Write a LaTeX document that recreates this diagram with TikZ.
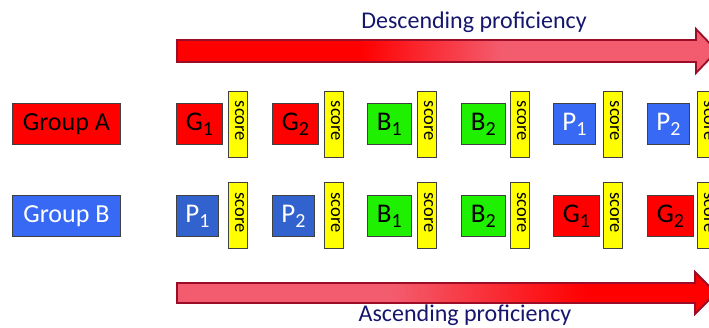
\documentclass[tikz,border=0pt]{standalone}
\usepackage{fontspec}
\setmainfont{Carlito}
\definecolor{myred}{RGB}{255,0,0}
\definecolor{myblue}{RGB}{55,105,245}
\definecolor{mydblue}{RGB}{50,98,205}
\definecolor{mygreen}{RGB}{30,240,0}
\definecolor{myyellow}{RGB}{255,255,0}
\definecolor{boxline}{RGB}{64,64,64}
\definecolor{navy}{RGB}{22,22,110}
\definecolor{arrpink}{RGB}{243,92,110}
\definecolor{arrline}{RGB}{155,12,38}
\newcommand\lsub[1]{\raisebox{-5pt}{\fontsize{20}{20}\selectfont #1}}
\pgfdeclarehorizontalshading{descshade}{100bp}{color(0bp)=(myred); color(42bp)=(myred); color(55bp)=(arrpink); color(100bp)=(arrpink)}
\pgfdeclarehorizontalshading{ascshade}{100bp}{color(0bp)=(arrpink); color(45bp)=(arrpink); color(63bp)=(myred); color(100bp)=(myred)}
\begin{document}
\begin{tikzpicture}[x=1pt,y=-1pt,
  box/.style={draw=boxline, line width=0.8pt, inner sep=0pt, anchor=north west,
    minimum height=41pt, font=\fontsize{27}{27}\selectfont},
  grp/.style={box, minimum width=108pt, font=\fontsize{26}{26}\selectfont},
  redbox/.style={box, fill=myred, minimum width=46pt, text=black},
  greenbox/.style={box, fill=mygreen, minimum width=44pt, text=black},
  bluebox/.style={box, fill=myblue, minimum width=42pt, text=white},
  dbluebox/.style={box, fill=mydblue, minimum width=42pt, text=white},
  scorebox/.style={draw=boxline, line width=0.8pt, fill=myyellow, inner sep=0pt,
    rotate=-90, minimum width=66pt, minimum height=19pt, anchor=center,
    text height=11pt, text depth=6pt,
    font=\fontsize{18.5}{18.5}\selectfont},
  caption/.style={text=navy, anchor=base, inner sep=0pt, font=\fontsize{24}{24}\selectfont},
  arrowshape/.style={draw=arrline, line width=1.8pt, line join=miter}
]
\useasboundingbox (0,0) rectangle (709,328);
\clip (0,0) rectangle (709,328);

% top arrow
\path[arrowshape, shading=descshade]
  (177,40) -- (696,40) -- (696,29) -- (717,51) -- (696,73) -- (696,62) -- (177,62) -- cycle;
\node[caption] (desc) at (474,29) {Descending proficiency};

% bottom arrow
\path[arrowshape, shading=ascshade]
  (177,283) -- (695,283) -- (695,272) -- (716,293) -- (695,314) -- (695,303) -- (177,303) -- cycle;
\node[caption] (asc) at (465,322) {Ascending proficiency};

% group labels
\node[grp, fill=myred, text=black] (ga) at (12,103) {Group A};
\node[grp, fill=myblue, text=white] (gb) at (12,195) {Group B};

% row A
\node[redbox]   (a1) at (176,103) {G\lsub{1}};
\node[redbox]   (a2) at (272,103) {G\lsub{2}};
\node[greenbox] (a3) at (367,103) {B\lsub{1}};
\node[greenbox] (a4) at (461,103) {B\lsub{2}};
\node[bluebox]  (a5) at (553,103) {P\lsub{1}};
\node[bluebox]  (a6) at (647,103) {P\lsub{2}};
\node[scorebox] (sa1) at (237.5,124) {score\hspace*{6pt}};
\node[scorebox] (sa2) at (333.5,124) {score\hspace*{6pt}};
\node[scorebox] (sa3) at (426.5,124) {score\hspace*{6pt}};
\node[scorebox] (sa4) at (519.5,124) {score\hspace*{6pt}};
\node[scorebox] (sa5) at (612.5,124) {score\hspace*{6pt}};
\node[scorebox] (sa6) at (706.5,124) {score\hspace*{6pt}};

% row B
\node[dbluebox] (b1) at (176,195) {P\lsub{1}};
\node[dbluebox] (b2) at (272,195) {P\lsub{2}};
\node[greenbox] (b3) at (367,195) {B\lsub{1}};
\node[greenbox] (b4) at (461,195) {B\lsub{2}};
\node[redbox]   (b5) at (553,195) {G\lsub{1}};
\node[redbox]   (b6) at (647,195) {G\lsub{2}};
\node[scorebox] (sb1) at (237.5,215.5) {score\hspace*{6pt}};
\node[scorebox] (sb2) at (333.5,215.5) {score\hspace*{6pt}};
\node[scorebox] (sb3) at (426.5,215.5) {score\hspace*{6pt}};
\node[scorebox] (sb4) at (519.5,215.5) {score\hspace*{6pt}};
\node[scorebox] (sb5) at (612.5,215.5) {score\hspace*{6pt}};
\node[scorebox] (sb6) at (706.5,215.5) {score\hspace*{6pt}};
\end{tikzpicture}
\end{document}
